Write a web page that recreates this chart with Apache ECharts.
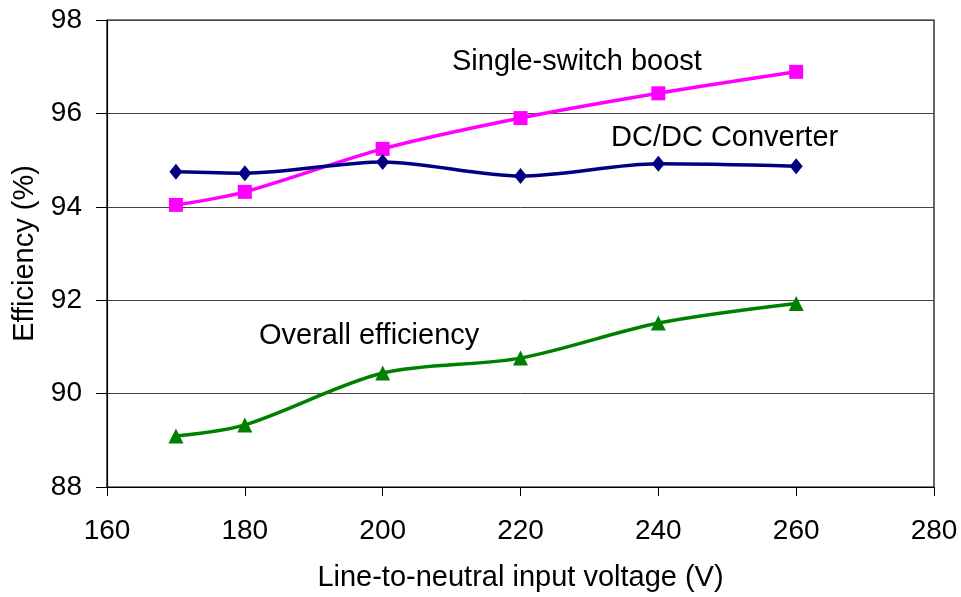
<!DOCTYPE html>
<html>
<head>
<meta charset="utf-8">
<script src="https://cdn.jsdelivr.net/npm/echarts@6/dist/echarts.min.js"></script>
<style>
  html, body { margin: 0; padding: 0; background: #fff; }
  #chart { width: 961px; height: 597px; }
</style>
</head>
<body>
<div id="chart"></div>
<script>
// Input voltage (V)
const voltages = [170, 180, 200, 220, 240, 260];
// Efficiency (%) per stage
const boostEff = [94.04, 94.32, 95.24, 95.90, 96.43, 96.89];
const dcdcEff = [94.75, 94.72, 94.96, 94.66, 94.92, 94.87];
const overallEff = [89.09, 89.33, 90.44, 90.76, 91.51, 91.93];
const xTicks = [160, 180, 200, 220, 240, 260, 280];
const yTicks = [88, 90, 92, 94, 96, 98];

const FONT = 'Liberation Sans, Arial, sans-serif';

function pairs(ys) { return voltages.map((v, i) => [v, ys[i]]); }

const chart = echarts.init(document.getElementById('chart'));
chart.setOption({
  animation: false,
  backgroundColor: '#ffffff',
  grid: {
    left: 107, right: 27, top: 20, bottom: 110,
    containLabel: false, outerBoundsMode: 'none',
    show: true, borderColor: '#000', borderWidth: 1.2
  },
  xAxis: {
    type: 'value', min: xTicks[0], max: xTicks[xTicks.length - 1], interval: 20,
    name: 'Line-to-neutral input voltage (V)', nameLocation: 'middle', nameGap: 76,
    nameTextStyle: { fontFamily: FONT, fontSize: 29, color: '#000' },
    axisLine: { show: true, lineStyle: { color: '#000', width: 1.2 } },
    axisTick: { show: true, inside: false, length: 9, lineStyle: { color: '#000' } },
    axisLabel: { fontFamily: FONT, fontSize: 28, color: '#000', margin: 30 },
    splitLine: { show: false }
  },
  yAxis: {
    type: 'value', min: yTicks[0], max: yTicks[yTicks.length - 1], interval: 2,
    name: 'Efficiency (%)', nameLocation: 'middle', nameGap: 68,
    nameTextStyle: { fontFamily: FONT, fontSize: 29, color: '#000' },
    axisLine: { show: true, lineStyle: { color: '#000', width: 1.2 } },
    axisTick: { show: true, inside: false, length: 11, lineStyle: { color: '#000' } },
    axisLabel: { fontFamily: FONT, fontSize: 28, color: '#000', margin: 25 },
    splitLine: { show: true, lineStyle: { color: '#444', width: 1 } }
  },
  series: [
    {
      name: 'Single-switch boost', type: 'line', data: pairs(boostEff), smooth: 0.3,
      symbol: 'rect', symbolSize: 14,
      lineStyle: { color: '#ff00ff', width: 3.5 }, itemStyle: { color: '#ff00ff' }
    },
    {
      name: 'DC/DC Converter', type: 'line', data: pairs(dcdcEff), smooth: 0.3,
      symbol: 'diamond', symbolSize: [13, 16],
      lineStyle: { color: '#000080', width: 3.5 }, itemStyle: { color: '#000080' }
    },
    {
      name: 'Overall efficiency', type: 'line', data: pairs(overallEff), smooth: 0.3,
      symbol: 'triangle', symbolSize: 15,
      lineStyle: { color: '#008000', width: 3.5 }, itemStyle: { color: '#008000' }
    }
  ],
  graphic: [
    { type: 'text', x: 452, y: 62, style: { text: 'Single-switch boost', font: '29px ' + FONT, fill: '#000', verticalAlign: 'middle' } },
    { type: 'text', x: 611, y: 138, style: { text: 'DC/DC Converter', font: '29px ' + FONT, fill: '#000', verticalAlign: 'middle' } },
    { type: 'text', x: 259, y: 336, style: { text: 'Overall efficiency', font: '29px ' + FONT, fill: '#000', verticalAlign: 'middle' } }
  ]
});
</script>
</body>
</html>
